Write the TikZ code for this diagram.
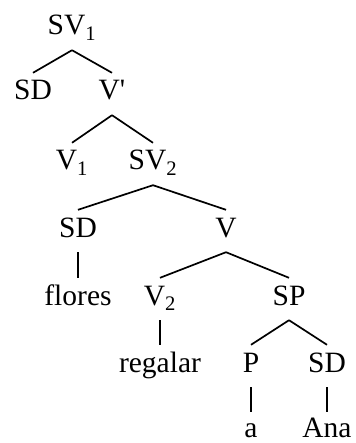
\documentclass[tikz,border=0pt]{standalone}
\usepackage{fontspec}
\setmainfont{Liberation Serif}
\usepackage{tikz}
\usetikzlibrary{positioning}
\tikzset{
  lbl/.style={anchor=base, font=\fontsize{29.5}{32}\selectfont, text height=20pt, text depth=8pt, inner xsep=0pt, inner ysep=7pt},
  leaf/.style={lbl, text height=25pt, text depth=0pt, inner ysep=0pt},
  branch/.style={line width=1.7pt, black},
}

\begin{document}
\begin{tikzpicture}[x=1pt, y=-1pt]
\useasboundingbox (0,0) rectangle (355,443);
% --- upper part: SV_1 and V' ---
\node[lbl] (sv1) at (72,35) {SV\textsubscript{1}};
\node[lbl] (sd1) at (33,100) {SD};
\node[lbl] (vbar) at (112,100) {V\textquotesingle};
\node[lbl] (v1) at (72,170) {V\textsubscript{1}};
\node[lbl] (sv2) at (153,170) {SV\textsubscript{2}};
\draw[branch] (sv1.south) -- (sd1.north);
\draw[branch] (sv1.south) -- (vbar.north);
\draw[branch] (vbar.south) -- (v1.north);
\draw[branch] (vbar.south) -- (sv2.north);
% --- SV_2: SD flores, V ---
\node[lbl] (sd2) at (78,237) {SD};
\node[lbl] (v) at (226,237) {V};
\node[lbl] (flores) at (78,305) {flores};
\node[lbl] (v2) at (160,305) {V\textsubscript{2}};
\node[lbl] (sp) at (289,305) {SP};
\node[lbl] (regalar) at (160,372) {regalar};
\draw[branch] (sv2.south) -- (sd2.north);
\draw[branch] (sv2.south) -- (v.north);
\draw[branch] (sd2.south) -- (flores.north);
\draw[branch] (v.south) -- (v2.north);
\draw[branch] (v.south) -- (sp.north);
\draw[branch] (v2.south) -- (regalar.north);
% --- SP: P a, SD Ana ---
\node[lbl] (p) at (251,372) {P};
\node[lbl] (sd3) at (327,372) {SD};
\node[leaf] (a) at (251,437) {a};
\node[leaf] (ana) at (327,437) {Ana};
\draw[branch] (sp.south) -- (p.north);
\draw[branch] (sp.south) -- (sd3.north);
\draw[branch] (p.south) -- (a.north);
\draw[branch] (sd3.south) -- (ana.north);
\end{tikzpicture}
\end{document}
